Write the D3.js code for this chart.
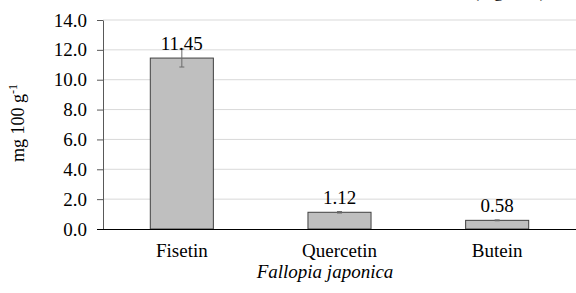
<!DOCTYPE html>
<html>
<head>
<meta charset="utf-8">
<script src="https://cdn.jsdelivr.net/npm/d3@7/dist/d3.min.js"></script>
<style>
  body { margin: 0; background: #fff; }
  svg text { font-family: "Liberation Serif", "DejaVu Serif", serif; fill: #000; }
</style>
</head>
<body>
<div id="chart"></div>
<script>
// data
var categories = ["Fisetin", "Quercetin", "Butein"];
var values = [11.45, 1.12, 0.58];
var errors = [0.6, 0.05, 0.03];
var valueLabels = ["11.45", "1.12", "0.58"];
var yTicks = [0, 2, 4, 6, 8, 10, 12, 14];

var width = 576, height = 293;
var margin = { top: 20, right: 0, bottom: 64, left: 103 };
var innerW = width - margin.left - margin.right;
var innerH = height - margin.top - margin.bottom;
var fontSize = "19px";

var svg = d3.select("#chart").append("svg")
  .attr("width", width)
  .attr("height", height);

// title cut off at the top of the picture, only descenders show
svg.append("text")
  .attr("x", 546)
  .attr("y", -3)
  .attr("text-anchor", "end")
  .style("font-size", fontSize)
  .text("(mg DW)");

var g = svg.append("g")
  .attr("transform", "translate(" + margin.left + "," + margin.top + ")");

var x = d3.scaleBand().domain(categories).range([0, innerW])
  .paddingInner(0.6).paddingOuter(0.3);
var y = d3.scaleLinear().domain([0, 14]).range([innerH, 0]);

// grid lines
g.append("g")
  .selectAll("line")
  .data(yTicks.filter(function (d) { return d > 0; }))
  .enter().append("line")
  .attr("x1", 0).attr("x2", innerW)
  .attr("y1", function (d) { return y(d); })
  .attr("y2", function (d) { return y(d); })
  .attr("stroke", "#d9d9d9")
  .attr("stroke-width", 1);

// Y axis
var yAxis = g.append("g")
  .call(d3.axisLeft(y).tickValues(yTicks).tickFormat(d3.format(".1f"))
    .tickSizeInner(6).tickSizeOuter(0).tickPadding(10));
yAxis.attr("font-family", null).attr("font-size", null);
yAxis.select(".domain").attr("stroke", "#595959");
yAxis.selectAll(".tick line").attr("stroke", "#595959");
yAxis.selectAll("text").style("font-size", fontSize).attr("fill", "#000");

// bars
g.selectAll(".bar")
  .data(values)
  .enter().append("rect")
  .attr("class", "bar")
  .attr("x", function (d, i) { return x(categories[i]); })
  .attr("y", function (d) { return y(d); })
  .attr("width", x.bandwidth())
  .attr("height", function (d) { return innerH - y(d); })
  .attr("fill", "#bfbfbf")
  .attr("stroke", "#404040")
  .attr("stroke-width", 1);

// error bars
var eb = g.selectAll(".err")
  .data(values)
  .enter().append("g")
  .attr("class", "err")
  .attr("stroke", "#6b6b6b")
  .attr("stroke-width", 1);
eb.append("line")
  .attr("x1", function (d, i) { return x(categories[i]) + x.bandwidth() / 2; })
  .attr("x2", function (d, i) { return x(categories[i]) + x.bandwidth() / 2; })
  .attr("y1", function (d, i) { return y(d + errors[i]); })
  .attr("y2", function (d, i) { return y(d - errors[i]); });
[1, -1].forEach(function (s) {
  eb.append("line")
    .attr("x1", function (d, i) { return x(categories[i]) + x.bandwidth() / 2 - 2.5; })
    .attr("x2", function (d, i) { return x(categories[i]) + x.bandwidth() / 2 + 2.5; })
    .attr("y1", function (d, i) { return y(d + s * errors[i]); })
    .attr("y2", function (d, i) { return y(d + s * errors[i]); });
});

// value labels
g.selectAll(".vlabel")
  .data(values)
  .enter().append("text")
  .attr("class", "vlabel")
  .attr("x", function (d, i) { return x(categories[i]) + x.bandwidth() / 2; })
  .attr("y", function (d) { return y(d) - 8; })
  .attr("text-anchor", "middle")
  .style("font-size", fontSize)
  .text(function (d, i) { return valueLabels[i]; });

// X axis
var xAxis = g.append("g")
  .attr("transform", "translate(0," + innerH + ")")
  .call(d3.axisBottom(x).tickSize(0).tickPadding(15));
xAxis.attr("font-family", null).attr("font-size", null);
xAxis.select(".domain").attr("stroke", "#000").attr("d", "M-6,0.5H" + innerW);
xAxis.selectAll("text").style("font-size", fontSize).attr("fill", "#000");

// X axis title
svg.append("text")
  .attr("x", 325)
  .attr("y", 278)
  .attr("text-anchor", "middle")
  .style("font-size", fontSize)
  .style("font-style", "italic")
  .text("Fallopia japonica");

// Y axis title
var yt = svg.append("text")
  .attr("transform", "translate(24,123) rotate(-90)")
  .attr("text-anchor", "middle")
  .style("font-size", "18px");
yt.append("tspan").text("mg 100 g");
yt.append("tspan").attr("dy", -7).style("font-size", "12px").text("-1");
</script>
</body>
</html>
